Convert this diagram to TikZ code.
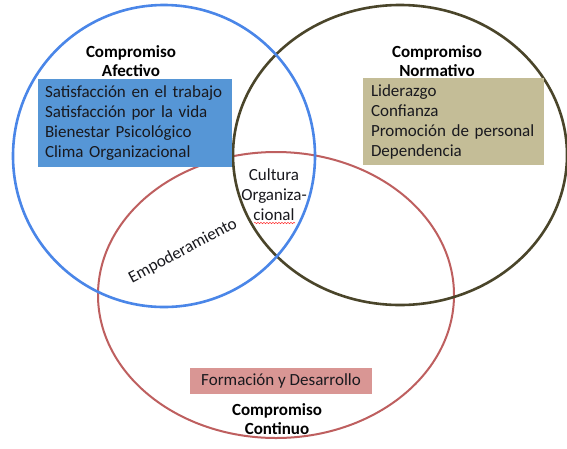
\documentclass[tikz,border=0pt]{standalone}
\usepackage{fontspec}
\setmainfont{Carlito}
\usetikzlibrary{decorations.pathmorphing}
\definecolor{lineblue}{RGB}{74,134,232}
\definecolor{lineolive}{RGB}{74,69,42}
\definecolor{linered}{RGB}{190,95,95}
\definecolor{fillblue}{RGB}{86,150,214}
\definecolor{fillolive}{RGB}{196,189,151}
\definecolor{fillred}{RGB}{217,150,148}
\definecolor{txt}{RGB}{25,25,30}
\tikzset{
  ring/.style={line width=2.6pt},
  title/.style={font=\fontsize{17}{18.5}\selectfont\bfseries, align=center, text=black, inner sep=0pt},
  body/.style={font=\fontsize{17}{20}\selectfont, text=txt},
  listbox/.style={body, align=left, inner ysep=0pt},
}
\begin{document}
\begin{tikzpicture}[x=1pt,y=-1pt]
\useasboundingbox (0,0) rectangle (567,448);
\fill[white] (0,0) rectangle (567,448);
% circles
\draw[ring, linered, line width=2pt] (276,295) ellipse [x radius=178pt, y radius=143pt];
\draw[ring, lineolive] (400,155) ellipse [x radius=167pt, y radius=150pt];
\draw[ring, lineblue] (164,156) ellipse [x radius=151pt, y radius=151pt];
% boxes
\node (afbox) [listbox, fill=fillblue, minimum width=194pt, minimum height=88pt, text width=180pt, inner xsep=7pt] at (135,123)
  {Satisfacción en el trabajo\\Satisfacción por la vida\\Bienestar Psicológico\\Clima Organizacional};
\node (nobox) [listbox, fill=fillolive, minimum width=181pt, minimum height=87pt, text width=165pt, inner xsep=8pt] at (453.5,121.5)
  {Liderazgo\\Confianza\\Promoción de personal\\Dependencia};
\node (cobox) [body, fill=fillred, minimum width=182pt, minimum height=26pt, inner sep=0pt] at (281,381)
  {Formación y Desarrollo};
% titles
\node (aftitle) [title] at (131,61) {Compromiso\\Afectivo};
\node (notitle) [title] at (437,61) {Compromiso\\Normativo};
\node (cotitle) [title] at (277,419) {Compromiso\\Continuo};
% center labels
\node (cultura) [body, align=center, inner sep=0pt] at (274,195) {Cultura\\Organiza-\\cional};
\coordinate (wavyA) at (254,223);
\coordinate (wavyB) at (295,223);
\draw[red!80, line width=0.5pt, decorate, decoration={snake, amplitude=0.7pt, segment length=3pt}] (wavyA) -- (wavyB);
\node (empo) [body, rotate=28, inner sep=0pt] at (183,251) {Empoderamiento};
\end{tikzpicture}
\end{document}
